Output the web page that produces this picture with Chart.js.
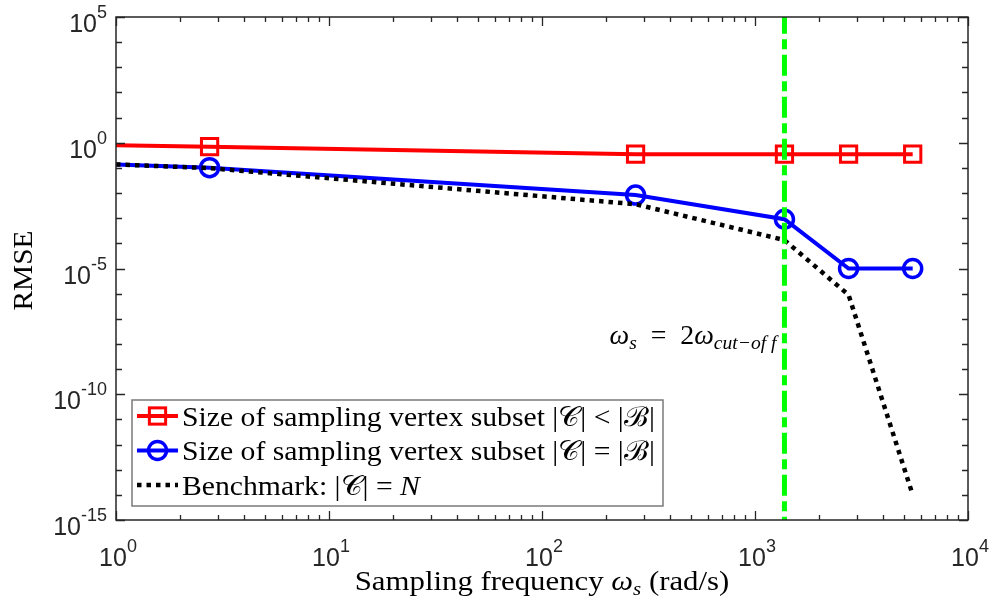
<!DOCTYPE html>
<html>
<head>
<meta charset="utf-8">
<script src="https://cdn.jsdelivr.net/npm/chart.js@4.4.1/dist/chart.umd.min.js"></script>
<style>
  html, body { margin: 0; padding: 0; background: #fff; }
  canvas { display: block; }
</style>
</head>
<body>
<canvas id="chart" width="997" height="602"></canvas>
<script>
// data
const freqs = [1, 2.75, 275, 1375, 2750, 5500];
const rmseLess = [0.79, 0.70, 0.35, 0.35, 0.35, 0.35];
const rmseEqual = [0.138, 0.102, 0.0083, 9.1e-4, 1.0e-5, 1.0e-5];
const rmseBench = [0.138, 0.098, 0.0036, 1.35e-4, 8.9e-7, 1.0e-14];
const cutoffFreq = 1375;
const xTickExps = [0, 1, 2, 3, 4];
const yTickExps = [5, 0, -5, -10, -15];
const seriesLabels = [
    'Size of sampling vertex subset |𝒞| < |ℬ|',
    'Size of sampling vertex subset |𝒞| = |ℬ|',
    'Benchmark: |𝒞| = N'
];

const SANS = '"Liberation Sans", Arial, sans-serif';
const SERIF = '"Liberation Serif", "Times New Roman", serif';
const AX = '#262626';

function pts(ys) {
    return freqs.map((f, i) => ({ x: f, y: ys[i] }));
}

// first sample sits on the left edge, no marker drawn there
function markerSizes(r) {
    return freqs.map((f, i) => (i === 0 ? 0 : r));
}

// draw a row of text pieces; stretch widens them a bit (latex fonts run wider)
function drawRuns(ctx, runs, x, y, align, stretch) {
    const sx = stretch || 1;
    let total = 0;
    runs.forEach(r => { ctx.font = r.font; total += ctx.measureText(r.t).width; });
    total *= sx;
    let cx = align === 'right' ? x - total : align === 'center' ? x - total / 2 : x;
    ctx.save();
    ctx.textAlign = 'left';
    ctx.textBaseline = 'alphabetic';
    ctx.translate(cx, y);
    ctx.scale(sx, 1);
    let off = 0;
    runs.forEach(r => {
        ctx.font = r.font;
        ctx.fillText(r.t, off, r.dy || 0);
        off += ctx.measureText(r.t).width;
    });
    ctx.restore();
    return total;
}

function powRuns(e) {
    return [
        { t: '10', font: '25px ' + SANS },
        { t: String(e), font: '18px ' + SANS, dy: -14 }
    ];
}

function legendRuns(i) {
    const f = '27px ' + SERIF;
    if (i < 2) return [{ t: seriesLabels[i], font: f }];
    const s = seriesLabels[i];
    return [
        { t: s.slice(0, -1), font: f },
        { t: s.slice(-1), font: 'italic ' + f }
    ];
}

const axesPlugin = {
    id: 'matlabAxes',
    afterDatasetsDraw(chart) {
        const ctx = chart.ctx;
        const a = chart.chartArea;
        const xs = chart.scales.x, ys = chart.scales.y;
        ctx.save();
        ctx.strokeStyle = AX;
        ctx.fillStyle = AX;
        ctx.lineWidth = 1.3;

        // x ticks (major + minor), bottom and top
        for (let e = 0; e <= 4; e++) {
            for (let m = 1; m <= 9; m++) {
                const v = m * Math.pow(10, e);
                if (v > 1e4) break;
                const px = Math.round(xs.getPixelForValue(v)) + 0.5;
                const len = m === 1 ? 9 : 5;
                ctx.beginPath();
                ctx.moveTo(px, a.bottom); ctx.lineTo(px, a.bottom - len);
                ctx.moveTo(px, a.top); ctx.lineTo(px, a.top + len);
                ctx.stroke();
            }
        }
        // y ticks each decade, left and right
        for (let e = -15; e <= 5; e++) {
            const py = Math.round(ys.getPixelForValue(Math.pow(10, e))) + 0.5;
            const len = e % 5 === 0 ? 9 : 6;
            ctx.beginPath();
            ctx.moveTo(a.left, py); ctx.lineTo(a.left + len, py);
            ctx.moveTo(a.right, py); ctx.lineTo(a.right - len, py);
            ctx.stroke();
        }
        // box
        ctx.lineWidth = 1.5;
        ctx.strokeRect(a.left, a.top, a.right - a.left, a.bottom - a.top);

        // tick labels
        xTickExps.forEach(e => {
            const px = xs.getPixelForValue(Math.pow(10, e));
            drawRuns(ctx, powRuns(e), px + 2, a.bottom + 46, 'center');
        });
        yTickExps.forEach(e => {
            const py = ys.getPixelForValue(Math.pow(10, e));
            drawRuns(ctx, powRuns(e), a.left - 9, py + 15, 'right');
        });

        // axis titles
        ctx.fillStyle = '#000';
        drawRuns(ctx, [
            { t: 'Sampling frequency ', font: '28px ' + SERIF },
            { t: 'ω', font: 'italic 28px ' + SERIF },
            { t: 's', font: 'italic 19px ' + SERIF, dy: 5 },
            { t: ' (rad/s)', font: '28px ' + SERIF }
        ], (a.left + a.right) / 2, 590, 'center', 1.1);

        ctx.save();
        ctx.translate(32, (a.top + a.bottom) / 2 + 2);
        ctx.rotate(-Math.PI / 2);
        drawRuns(ctx, [{ t: 'RMSE', font: '28px ' + SERIF }], 0, 0, 'center', 1.05);
        ctx.restore();

        // cut-off annotation
        const gx = xs.getPixelForValue(cutoffFreq);
        drawRuns(ctx, [
            { t: 'ω', font: 'italic 27px ' + SERIF },
            { t: 's', font: 'italic 19px ' + SERIF, dy: 5 },
            { t: '\u2002=\u20022', font: '27px ' + SERIF },
            { t: 'ω', font: 'italic 27px ' + SERIF },
            { t: 'cut−of f', font: 'italic 19px ' + SERIF, dy: 5 }
        ], gx - 8, ys.getPixelForValue(1e-8), 'right', 1.03);

        // legend box
        const lx = 132, ly = 400, lw = 531, lh = 106;
        ctx.fillStyle = '#fff';
        ctx.fillRect(lx, ly, lw, lh);
        ctx.strokeStyle = '#7a7a7a';
        ctx.lineWidth = 1.5;
        ctx.strokeRect(lx, ly, lw, lh);

        const rows = [416, 450.5, 485];
        [0, 1, 2].forEach(i => {
            const ds = chart.data.datasets.find(d => d.legendIndex === i);
            const cy = rows[i];
            ctx.save();
            ctx.strokeStyle = ds.borderColor;
            ctx.lineWidth = ds.borderWidth;
            ctx.setLineDash(ds.borderDash || []);
            ctx.beginPath();
            ctx.moveTo(137, cy); ctx.lineTo(178, cy);
            ctx.stroke();
            ctx.setLineDash([]);
            ctx.lineWidth = ds.pointBorderWidth || 1;
            if (ds.pointStyle === 'rect') {
                const s = Math.SQRT1_2 * ds.legendRadius;
                ctx.strokeRect(157.5 - s, cy - s, 2 * s, 2 * s);
            } else if (ds.pointStyle === 'circle' && ds.legendRadius) {
                ctx.beginPath();
                ctx.arc(157.5, cy, ds.legendRadius, 0, Math.PI * 2);
                ctx.stroke();
            }
            ctx.restore();
            ctx.fillStyle = '#000';
            drawRuns(ctx, legendRuns(i), 182, cy + 9.5, 'left', 1.1);
        });

        ctx.restore();
    }
};

new Chart(document.getElementById('chart'), {
    type: 'line',
    data: {
        datasets: [
            {
                label: 'cutoff',
                data: [{ x: cutoffFreq, y: 1e-15 }, { x: cutoffFreq, y: 1e5 }],
                borderColor: '#00ff00',
                borderWidth: 5,
                borderDash: [21, 5.5, 10, 5.5],
                borderDashOffset: 17.7,
                borderCapStyle: 'butt',
                pointRadius: 0,
                order: 0
            },
            {
                label: seriesLabels[2],
                legendIndex: 2,
                data: pts(rmseBench),
                borderColor: '#000000',
                borderWidth: 4.5,
                borderDash: [4.5, 5],
                borderCapStyle: 'butt',
                pointRadius: 0,
                order: 1
            },
            {
                label: seriesLabels[1],
                legendIndex: 1,
                data: pts(rmseEqual),
                borderColor: '#0000ff',
                borderWidth: 4,
                pointStyle: 'circle',
                pointRadius: markerSizes(9),
                legendRadius: 9,
                pointBorderWidth: 3.5,
                pointBorderColor: '#0000ff',
                pointBackgroundColor: 'rgba(0,0,0,0)',
                order: 2
            },
            {
                label: seriesLabels[0],
                legendIndex: 0,
                data: pts(rmseLess),
                borderColor: '#ff0000',
                borderWidth: 4,
                pointStyle: 'rect',
                pointRadius: markerSizes(11.5),
                legendRadius: 11.5,
                pointBorderWidth: 3,
                pointBorderColor: '#ff0000',
                pointBackgroundColor: 'rgba(0,0,0,0)',
                order: 3
            }
        ]
    },
    options: {
        responsive: false,
        animation: false,
        devicePixelRatio: 1,
        layout: { padding: { left: 116, right: 29, top: 17, bottom: 82 } },
        elements: { line: { tension: 0 } },
        scales: {
            x: { type: 'logarithmic', min: 1, max: 1e4, display: false },
            y: { type: 'logarithmic', min: 1e-15, max: 1e5, display: false }
        },
        plugins: {
            legend: { display: false },
            tooltip: { enabled: false }
        }
    },
    plugins: [axesPlugin]
});
</script>
</body>
</html>
